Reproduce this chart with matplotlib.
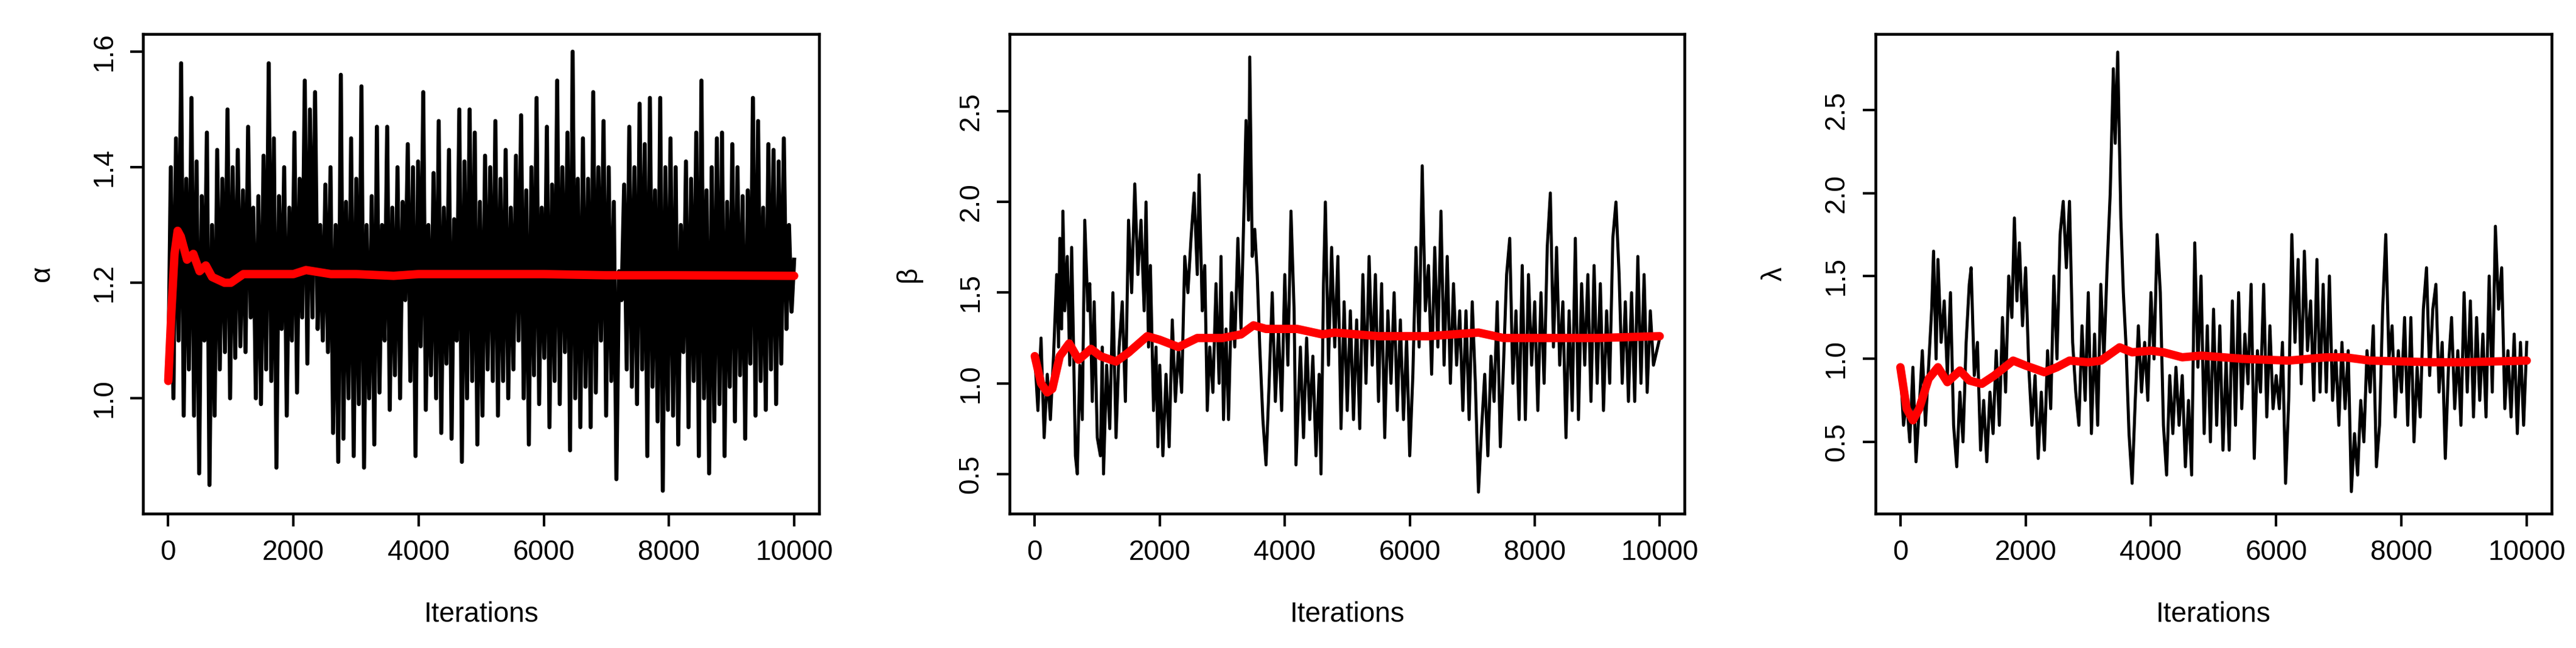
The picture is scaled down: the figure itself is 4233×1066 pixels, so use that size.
import matplotlib
matplotlib.use("Agg")
import matplotlib.pyplot as plt
import numpy as np

# ---- alpha trace (iterations spaced evenly 0..10000) ----
alpha_vals = [1.03, 1.40, 1.00, 1.45, 1.10, 1.58, 0.97, 1.38, 1.05, 1.52, 0.97, 1.41, 0.87, 1.35, 1.10, 1.46, 0.85, 1.30, 0.97, 1.43,
              1.05, 1.38, 1.08, 1.50, 1.00, 1.40, 1.07, 1.43, 1.09, 1.36, 1.08, 1.47, 1.14, 1.33, 1.00, 1.35, 0.99, 1.42, 1.05, 1.58,
              1.03, 1.45, 0.88, 1.35, 1.12, 1.40, 0.97, 1.33, 1.10, 1.46, 1.01, 1.38, 1.14, 1.55, 1.06, 1.50, 1.14, 1.53, 1.12, 1.30,
              1.10, 1.37, 1.08, 1.40, 0.94, 1.30, 0.89, 1.56, 0.93, 1.34, 1.00, 1.45, 0.90, 1.38, 0.99, 1.54, 0.88, 1.30, 1.00, 1.35,
              0.92, 1.47, 1.01, 1.30, 1.10, 1.47, 0.98, 1.33, 1.04, 1.40, 1.00, 1.34, 1.17, 1.44, 1.03, 1.40, 0.90, 1.41, 1.09, 1.53,
              0.98, 1.30, 1.04, 1.39, 1.00, 1.48, 0.94, 1.33, 1.06, 1.43, 0.93, 1.31, 1.10, 1.50, 0.89, 1.41, 1.00, 1.50, 1.03, 1.46,
              0.92, 1.34, 0.97, 1.42, 1.05, 1.40, 1.03, 1.48, 0.97, 1.38, 1.03, 1.43, 1.00, 1.33, 1.05, 1.42, 1.10, 1.49, 1.00, 1.36,
              0.92, 1.40, 1.04, 1.52, 0.99, 1.33, 1.07, 1.47, 0.95, 1.37, 1.03, 1.55, 0.99, 1.40, 1.08, 1.46, 0.91, 1.60, 1.00, 1.38,
              0.95, 1.45, 1.02, 1.38, 0.95, 1.53, 1.01, 1.40, 1.10, 1.48, 0.97, 1.40, 1.03, 1.34, 0.86, 1.22, 1.17, 1.37, 1.05, 1.47,
              1.02, 1.40, 0.99, 1.51, 1.05, 1.44, 0.90, 1.52, 1.02, 1.36, 0.96, 1.52, 0.84, 1.40, 0.98, 1.45, 0.97, 1.40, 0.92, 1.30,
              1.08, 1.41, 0.95, 1.38, 1.03, 1.46, 0.90, 1.55, 1.00, 1.36, 0.87, 1.40, 0.96, 1.45, 0.99, 1.46, 0.90, 1.34, 1.02, 1.44,
              0.96, 1.40, 1.04, 1.35, 0.93, 1.36, 1.06, 1.52, 0.97, 1.48, 1.03, 1.33, 0.98, 1.44, 1.05, 1.43, 0.99, 1.41, 1.06, 1.45,
              1.12, 1.30, 1.15, 1.24]
alpha_mean_x = [0, 50, 100, 150, 200, 300, 400, 500, 600, 700, 900, 1000, 1200, 1500, 2000, 2200, 2600, 3000, 3600, 4000, 5000, 6000, 7000, 8000, 10000]
alpha_mean_y = [1.03, 1.15, 1.25, 1.29, 1.28, 1.24, 1.25, 1.22, 1.23, 1.21, 1.20, 1.20, 1.215, 1.215, 1.215, 1.222, 1.215, 1.215, 1.212, 1.215, 1.215, 1.215, 1.213, 1.213, 1.212]

# ---- beta trace ----
beta_x = [0,50,100,150,200,250,300,350,380,400,430,450,480,520,560,590,620,650,680,720,760,800,850,880,920,950,1000,1050,1080,1100,1150,1200,1250,1300,1350,1400,1450,1500,1550,1600,1650,1700,1750,1780,1820,1850,1900,1940,1970,2000,2050,2100,2150,2200,2250,2300,2350,2400,2450,2500,2550,2600,2630,2680,2720,2760,2800,2850,2900,2950,2980,3020,3060,3100,3150,3200,3250,3300,3350,3380,3420,3440,3480,3520,3560,3600,3650,3700,3750,3800,3850,3900,3950,4000,4050,4100,4150,4180,4250,4300,4350,4400,4450,4500,4550,4580,4620,4650,4700,4750,4800,4850,4900,4950,5000,5050,5100,5150,5200,5250,5300,5350,5400,5450,5500,5550,5600,5650,5700,5750,5800,5850,5900,5950,6000,6050,6100,6150,6200,6250,6300,6350,6400,6450,6500,6550,6600,6650,6700,6750,6800,6850,6900,6950,7000,7050,7100,7150,7200,7250,7300,7350,7400,7450,7500,7550,7600,7650,7700,7750,7800,7850,7900,7950,8000,8050,8100,8150,8200,8250,8300,8350,8400,8450,8500,8550,8600,8650,8700,8750,8800,8850,8900,8950,9000,9050,9100,9150,9200,9250,9300,9350,9400,9450,9500,9550,9600,9650,9700,9750,9800,9850,9900,10000]
beta_y = [1.15,0.85,1.25,0.7,1.05,0.8,1.15,1.6,1.2,1.8,1.3,1.95,1.4,1.7,1.1,1.75,1.2,0.6,0.5,1.1,0.8,1.9,1.4,1.55,0.9,1.45,0.7,0.6,1.2,0.5,1.1,0.75,1.5,0.7,1.2,1.45,0.9,1.9,1.5,2.1,1.6,1.9,1.4,2.0,1.2,1.65,0.85,1.2,0.65,1.1,0.6,1.05,0.65,1.35,0.9,1.2,0.95,1.7,1.5,1.8,2.05,1.6,2.15,1.4,1.65,0.85,1.2,0.95,1.55,1.0,1.7,0.8,1.3,0.8,1.5,1.2,1.8,1.3,2.0,2.45,1.9,2.8,1.7,1.85,1.6,1.2,0.8,0.55,1.0,1.5,0.9,1.3,0.85,1.6,1.1,1.95,1.4,0.55,1.2,0.7,1.25,0.8,1.15,0.6,1.05,0.5,1.55,2.0,1.1,1.75,1.2,1.7,0.75,1.45,0.85,1.4,0.8,1.35,0.75,1.6,1.0,1.7,1.1,1.6,0.9,1.55,0.7,1.4,1.0,1.5,0.85,1.35,0.8,1.25,0.6,1.05,1.75,1.2,2.2,1.4,1.65,1.05,1.75,1.2,1.95,1.1,1.7,1.0,1.55,1.1,1.4,0.85,1.4,0.8,1.45,1.0,0.4,0.75,1.05,0.6,1.15,0.9,1.45,0.65,1.1,1.6,1.8,1.0,1.4,0.8,1.65,0.8,1.6,1.1,1.45,0.85,1.5,1.0,1.75,2.05,1.2,1.75,1.1,1.45,0.7,1.4,0.85,1.8,0.8,1.55,1.1,1.6,0.9,1.65,1.0,1.55,0.85,1.4,1.0,1.8,2.0,1.6,1.0,1.45,0.9,1.5,0.9,1.7,1.0,1.6,0.95,1.4,1.1,1.25]
beta_mean_x = [0,100,200,280,400,550,700,900,1050,1300,1500,1800,2000,2300,2600,3000,3300,3500,3700,4000,4200,4600,4800,5500,6000,6300,6700,7100,7500,8000,9000,10000]
beta_mean_y = [1.15,1.0,0.95,0.97,1.15,1.22,1.13,1.19,1.15,1.12,1.17,1.26,1.24,1.2,1.25,1.25,1.27,1.32,1.3,1.3,1.3,1.27,1.28,1.26,1.26,1.26,1.27,1.28,1.25,1.25,1.25,1.26]

# ---- lambda trace ----
lam_x = [0,50,100,150,200,250,300,350,400,450,500,530,570,600,650,700,750,800,850,900,950,1000,1050,1100,1130,1180,1230,1280,1330,1380,1430,1480,1530,1580,1630,1680,1730,1780,1820,1860,1900,1950,2000,2050,2100,2150,2200,2250,2300,2350,2400,2450,2500,2550,2600,2650,2700,2750,2800,2850,2900,2950,3000,3050,3100,3150,3200,3250,3300,3350,3400,3430,3470,3520,3560,3600,3650,3700,3750,3800,3850,3900,3950,4000,4050,4100,4150,4200,4250,4300,4350,4400,4450,4500,4550,4600,4650,4700,4750,4800,4850,4900,4950,5000,5050,5100,5150,5200,5250,5300,5350,5400,5450,5500,5550,5600,5650,5700,5750,5800,5850,5900,5950,6000,6050,6100,6150,6200,6250,6300,6350,6400,6450,6500,6550,6600,6650,6700,6750,6800,6850,6900,6950,7000,7050,7100,7150,7200,7250,7300,7350,7400,7450,7500,7550,7600,7650,7700,7750,7800,7850,7900,7950,8000,8050,8100,8150,8200,8250,8300,8350,8400,8450,8500,8550,8600,8650,8700,8750,8800,8850,8900,8950,9000,9050,9100,9150,9200,9250,9300,9350,9400,9450,9500,9550,9600,9650,9700,9750,9800,9850,9900,9950,10000]
lam_y = [0.95,0.6,0.75,0.5,0.95,0.38,0.7,1.05,0.6,0.95,1.3,1.65,1.0,1.6,1.1,1.35,0.9,1.4,0.6,0.35,0.8,0.5,1.1,1.45,1.55,0.9,1.1,0.45,0.75,0.38,0.8,0.55,1.05,0.6,1.25,0.8,1.5,1.25,1.85,1.35,1.7,1.2,1.55,0.95,0.6,0.9,0.4,0.8,0.45,1.05,0.7,1.5,1.0,1.75,1.95,1.55,1.95,1.1,0.8,0.6,1.2,0.75,1.4,0.55,1.15,0.6,1.45,1.0,1.55,2.0,2.75,2.3,2.85,1.85,1.4,1.1,0.55,0.25,0.75,1.2,0.8,1.1,0.75,1.4,1.0,1.75,1.4,0.6,0.3,0.9,0.55,0.95,0.6,0.9,0.35,0.75,0.3,1.7,0.95,1.5,0.55,1.2,0.5,1.3,0.6,1.2,0.45,1.0,0.45,1.35,0.6,1.4,0.7,1.15,0.85,1.45,0.4,1.05,0.8,1.45,0.65,1.2,0.7,0.9,0.7,1.1,0.25,0.75,1.75,1.1,1.6,0.85,1.65,1.05,1.35,0.75,1.6,0.8,1.45,0.8,1.5,0.75,1.05,0.6,1.1,0.7,1.05,0.2,0.55,0.3,0.75,0.5,1.05,0.8,1.2,0.35,0.6,1.3,1.75,1.0,1.2,0.65,1.05,0.8,1.25,0.6,1.25,0.5,0.95,0.65,1.3,1.55,0.9,1.3,1.45,0.8,1.1,0.4,0.95,1.25,0.7,1.05,0.6,1.4,0.8,1.35,0.65,1.25,0.75,1.15,0.65,1.5,0.8,1.8,1.3,1.55,0.7,1.05,0.65,1.15,0.55,1.1,0.6,1.1]
lam_mean_x = [0,60,100,200,300,450,600,750,950,1100,1300,1500,1800,2000,2300,2500,2700,3000,3200,3500,3700,4000,4200,4500,4800,5500,6200,6800,7100,7500,8500,9000,10000]
lam_mean_y = [0.95,0.8,0.7,0.63,0.7,0.88,0.95,0.86,0.93,0.87,0.85,0.9,0.99,0.96,0.92,0.95,0.99,0.98,0.99,1.07,1.04,1.05,1.04,1.01,1.02,1.0,0.99,1.01,1.01,0.99,0.98,0.98,0.99]

x_ticks = [0, 2000, 4000, 6000, 8000, 10000]
ylabels = ["α", "β", "λ"]

plt.rcParams['font.family'] = ['Liberation Sans', 'DejaVu Sans']
fig = plt.figure(figsize=(4233/300, 1066/300), dpi=300)

panels = [
    (np.linspace(0, 10000, len(alpha_vals)), alpha_vals, alpha_mean_x, alpha_mean_y, (0.80, 1.63), [1.0, 1.2, 1.4, 1.6], 0.0556, 0.318, 1.6),
    (beta_x, beta_y, beta_mean_x, beta_mean_y, (0.28, 2.925), [0.5, 1.0, 1.5, 2.0, 2.5], 0.392, 0.654, 1.2),
    (lam_x, lam_y, lam_mean_x, lam_mean_y, (0.066, 2.957), [0.5, 1.0, 1.5, 2.0, 2.5], 0.728, 0.9906, 1.2),
]
for i, (tx, ty, mx, my, ylim, yt, l, r, lw) in enumerate(panels):
    ax = fig.add_axes([l, 0.207, r - l, 0.947 - 0.207])
    ax.plot(tx, ty, color="black", lw=lw)
    ax.plot(mx, my, color="red", lw=3.3, solid_capstyle="round")
    ax.set_xlim(-400, 10400)
    ax.set_ylim(*ylim)
    ax.set_xticks(x_ticks)
    ax.set_yticks(yt)
    ax.set_yticklabels([f"{v:.1f}" for v in yt], rotation=90, va="center")
    ax.tick_params(direction="out", length=5, width=1.0, labelsize=11, pad=5)
    for s in ax.spines.values():
        s.set_linewidth(1.1)
    ax.set_xlabel("Iterations", fontsize=11, labelpad=14)
    ax.set_ylabel(ylabels[i], fontsize=11, labelpad=14)

fig.savefig("out.png", dpi=300)
